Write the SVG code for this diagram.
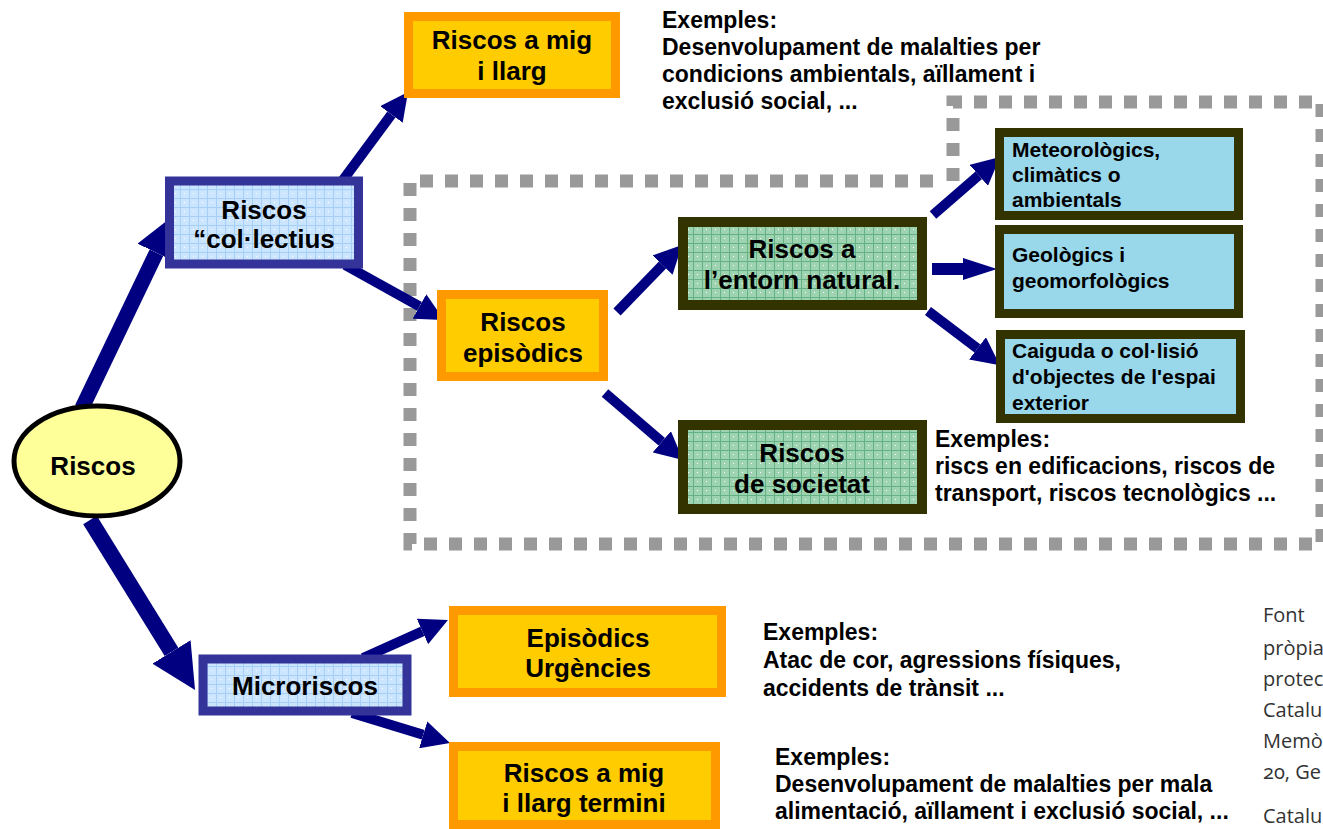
<svg xmlns="http://www.w3.org/2000/svg" width="1323" height="829" viewBox="0 0 1323 829">
<defs>
<style>
.t{font-family:"Liberation Sans",Arial,sans-serif;font-weight:bold;fill:#000}
.tt{font-size:26px;text-anchor:middle}
.tc{font-size:21px}
.ex{font-size:23px}
.ft{font-family:"Open Sans","Noto Sans",sans-serif;font-size:20px;fill:#333;font-feature-settings:"onum"}
.orange{fill:#FFCC00;stroke:#FF9900;stroke-width:9}
.blue{fill:url(#gb);stroke:#333399;stroke-width:9}
.green{fill:url(#gg);stroke:#333300;stroke-width:10}
.cyan{fill:#99D8EA;stroke:#333300;stroke-width:9}
.ar{stroke:#000080;fill:none;marker-end:url(#ah)}
</style>
<pattern id="gb" width="9" height="9" patternUnits="userSpaceOnUse">
<rect width="9" height="9" fill="#CCE5FF"/>
<path d="M0,0.5H9M0.5,0V9" stroke="#A6CFF7" stroke-width="1"/>
<rect x="4" y="4" width="1" height="1" fill="#fff"/>
</pattern>
<pattern id="gg" width="9" height="9" patternUnits="userSpaceOnUse">
<rect width="9" height="9" fill="#9DD3B1"/>
<path d="M0,0.5H9M0.5,0V9" stroke="#63B184" stroke-width="1"/>
<rect x="4" y="4" width="1" height="1" fill="#fff"/>
</pattern>
<marker id="ah" viewBox="0 0 10 10" refX="0" refY="5" markerWidth="2.8" markerHeight="2.8" orient="auto" markerUnits="strokeWidth">
<path d="M0,0 L10,5 L0,10 z" fill="#000080"/>
</marker>
</defs>
<rect width="1323" height="829" fill="#fff"/>

<g id="dashed-frame">
<path d="M953,181 V102 H1322 V544 H410 V181 H945" fill="none" stroke="#999" stroke-width="13" stroke-dasharray="13 12"/>
</g>

<g id="connectors">
<line class="ar" x1="82" y1="408" x2="156.4" y2="252.7" stroke-width="15"/>
<line class="ar" x1="90" y1="520" x2="171.5" y2="651.9" stroke-width="16"/>
<line class="ar" x1="343" y1="180" x2="391.4" y2="114.5" stroke-width="10"/>
<line class="ar" x1="345" y1="265" x2="419.5" y2="306.4" stroke-width="10"/>
<line class="ar" x1="617" y1="312" x2="662.5" y2="265.1" stroke-width="10"/>
<line class="ar" x1="605" y1="393" x2="661.8" y2="441.8" stroke-width="10"/>
<line class="ar" x1="933" y1="215" x2="978.8" y2="175.3" stroke-width="10"/>
<path d="M932,263 H963 V258 L997,269 L963,280 V275 H932 Z" fill="#000080"/>
<line class="ar" x1="928" y1="311" x2="977.5" y2="348.4" stroke-width="10"/>
<line class="ar" x1="363" y1="658" x2="422.4" y2="631.4" stroke-width="10"/>
<line class="ar" x1="352" y1="713" x2="423.2" y2="734.8" stroke-width="10"/>
</g>

<g id="riscos">
<ellipse cx="97" cy="461" rx="83" ry="55" fill="#FFFF99" stroke="#000" stroke-width="5"/>
<text class="t tt" x="93" y="475">Riscos</text>
</g>

<g id="collectius">
<rect class="blue" x="169.5" y="181" width="189" height="83"/>
<text class="t tt" x="264" y="219" font-size="25">Riscos</text>
<text class="t tt" x="264" y="248">“col·lectius</text>
</g>

<g id="mig-llarg">
<rect class="orange" x="408.5" y="16.5" width="207" height="77"/>
<text class="t tt" x="512" y="49">Riscos a mig</text>
<text class="t tt" x="512" y="80">i llarg</text>
</g>

<g id="exemples-1">
<text class="t ex" x="662" y="28">Exemples:</text>
<text class="t ex" x="662" y="55">Desenvolupament de malalties per</text>
<text class="t ex" x="662" y="82">condicions ambientals, aïllament i</text>
<text class="t ex" x="662" y="109">exclusió social, ...</text>
</g>

<g id="episodics">
<rect class="orange" x="441.5" y="294.5" width="162" height="82"/>
<text class="t tt" x="523" y="331">Riscos</text>
<text class="t tt" x="523" y="362">episòdics</text>
</g>

<g id="entorn">
<rect class="green" x="683" y="222" width="239" height="83"/>
<text class="t tt" x="802" y="258">Riscos a</text>
<text class="t tt" x="802" y="289">l’entorn natural.</text>
</g>

<g id="societat">
<rect class="green" x="683" y="425" width="239" height="84"/>
<text class="t tt" x="802" y="462">Riscos</text>
<text class="t tt" x="802" y="493">de societat</text>
</g>

<g id="meteo">
<rect class="cyan" x="999.5" y="132.5" width="239" height="83"/>
<text class="t tc" x="1012" y="157">Meteorològics,</text>
<text class="t tc" x="1012" y="182">climàtics o</text>
<text class="t tc" x="1012" y="207">ambientals</text>
</g>

<g id="geologics">
<rect class="cyan" x="999.5" y="229.5" width="239" height="84"/>
<text class="t tc" x="1012" y="262">Geològics i</text>
<text class="t tc" x="1012" y="288">geomorfològics</text>
</g>

<g id="caiguda">
<rect class="cyan" x="1000.5" y="334.5" width="240" height="84"/>
<text class="t tc" x="1012" y="358">Caiguda o col·lisió</text>
<text class="t tc" x="1012" y="384">d'objectes de l'espai</text>
<text class="t tc" x="1012" y="410">exterior</text>
</g>

<g id="exemples-2">
<text class="t ex" x="935" y="447">Exemples:</text>
<text class="t ex" x="935" y="474">riscs en edificacions, riscos de</text>
<text class="t ex" x="935" y="501">transport, riscos tecnològics ...</text>
</g>

<g id="microriscos">
<rect class="blue" x="203" y="659" width="204" height="52" stroke-width="10"/>
<text class="t tt" x="305" y="695">Microriscos</text>
</g>

<g id="urgencies">
<rect class="orange" x="453.5" y="610.5" width="268" height="82"/>
<text class="t tt" x="588" y="647">Episòdics</text>
<text class="t tt" x="588" y="677">Urgències</text>
</g>

<g id="exemples-3">
<text class="t ex" x="763" y="640">Exemples:</text>
<text class="t ex" x="763" y="668">Atac de cor, agressions físiques,</text>
<text class="t ex" x="763" y="696">accidents de trànsit ...</text>
</g>

<g id="termini">
<rect class="orange" x="453.5" y="746.5" width="262" height="78"/>
<text class="t tt" x="584" y="782">Riscos a mig</text>
<text class="t tt" x="584" y="812">i llarg termini</text>
</g>

<g id="exemples-4">
<text class="t ex" x="775" y="765">Exemples:</text>
<text class="t ex" x="775" y="792">Desenvolupament de malalties per mala</text>
<text class="t ex" x="775" y="819">alimentació, aïllament i exclusió social, ...</text>
</g>

<g id="font-note">
<text class="ft" x="1263" y="622">Font</text>
<text class="ft" x="1263" y="655">pròpia</text>
<text class="ft" x="1263" y="686">protec</text>
<text class="ft" x="1263" y="717">Catalu</text>
<text class="ft" x="1263" y="748">Memò</text>
<text class="ft" x="1263" y="779">20, Ge</text>
<text class="ft" x="1263" y="823">Catalu</text>
</g>
</svg>
